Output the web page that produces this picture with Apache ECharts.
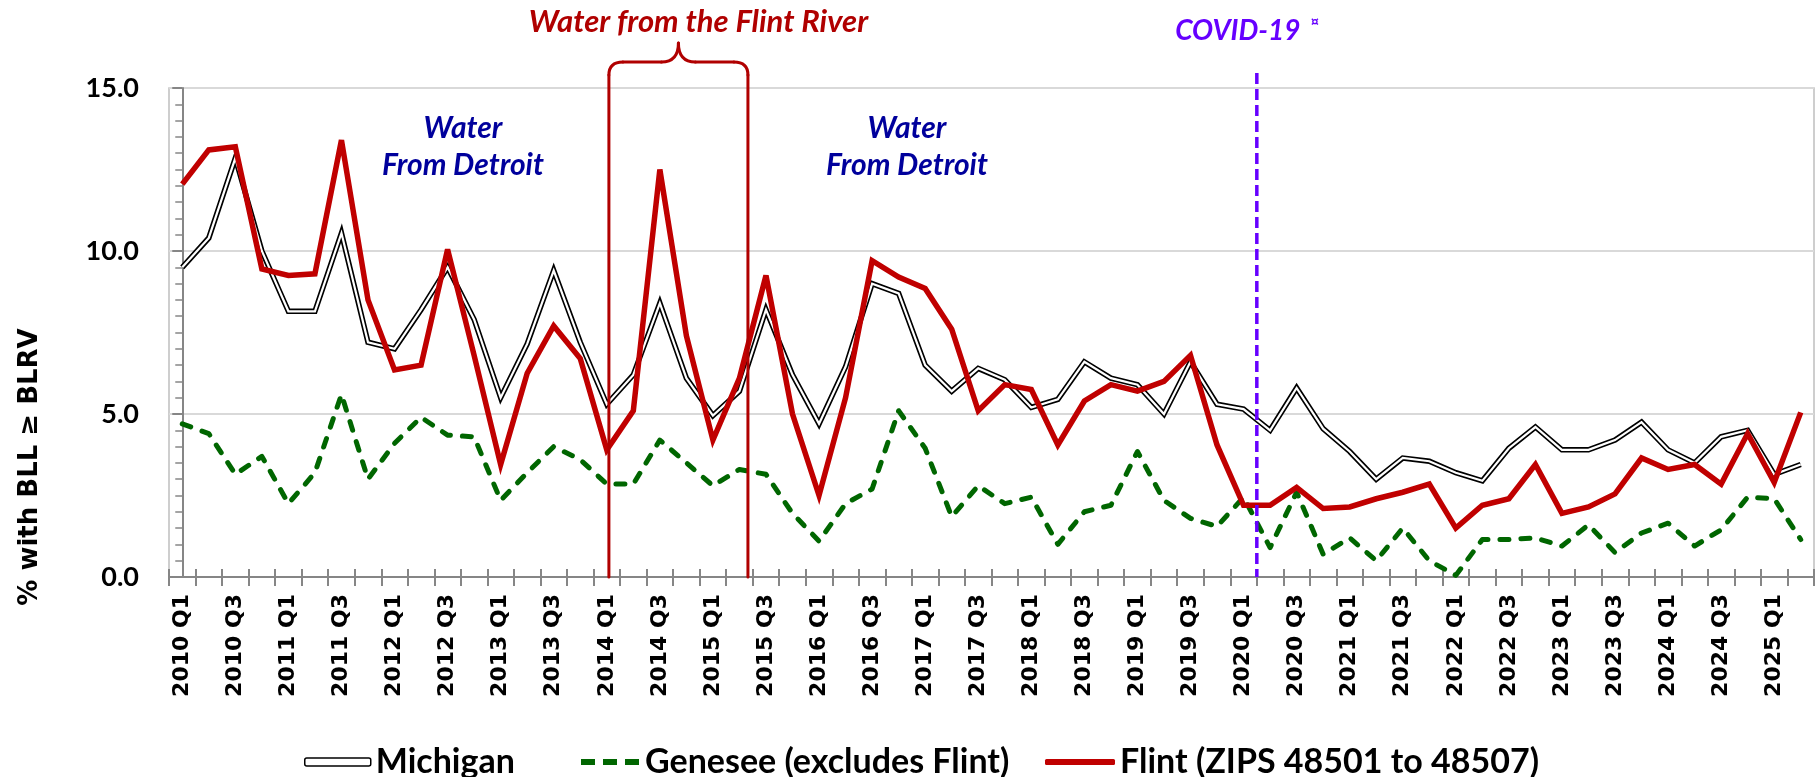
<!DOCTYPE html>
<html><head><meta charset="utf-8">
<script src="https://cdn.jsdelivr.net/npm/echarts@6/dist/echarts.min.js"></script>
<style>html,body{margin:0;padding:0;background:#fff}#c{width:1818px;height:777px}</style>
</head><body><div id="c"></div>
<script>
const quarters = [
 '2010 Q1','2010 Q2','2010 Q3','2010 Q4','2011 Q1','2011 Q2','2011 Q3','2011 Q4',
 '2012 Q1','2012 Q2','2012 Q3','2012 Q4','2013 Q1','2013 Q2','2013 Q3','2013 Q4',
 '2014 Q1','2014 Q2','2014 Q3','2014 Q4','2015 Q1','2015 Q2','2015 Q3','2015 Q4',
 '2016 Q1','2016 Q2','2016 Q3','2016 Q4','2017 Q1','2017 Q2','2017 Q3','2017 Q4',
 '2018 Q1','2018 Q2','2018 Q3','2018 Q4','2019 Q1','2019 Q2','2019 Q3','2019 Q4',
 '2020 Q1','2020 Q2','2020 Q3','2020 Q4','2021 Q1','2021 Q2','2021 Q3','2021 Q4',
 '2022 Q1','2022 Q2','2022 Q3','2022 Q4','2023 Q1','2023 Q2','2023 Q3','2023 Q4',
 '2024 Q1','2024 Q2','2024 Q3','2024 Q4','2025 Q1','2025 Q2'
];
const michigan = [9.5,10.4,12.85,10.0,8.15,8.15,10.55,7.2,7.0,8.2,
 9.5,7.9,5.5,7.15,9.4,7.2,5.3,6.2,8.4,6.1,
 4.95,5.7,8.2,6.2,4.7,6.45,9.0,8.7,6.5,5.7,
 6.4,6.05,5.2,5.45,6.6,6.1,5.9,5.0,6.6,5.3,
 5.15,4.5,5.8,4.55,3.85,3.0,3.65,3.55,3.2,2.95,
 3.95,4.6,3.9,3.9,4.2,4.75,3.9,3.5,4.3,4.5,
 3.15,3.45];
const genesee = [4.7,4.4,3.15,3.7,2.25,3.2,5.6,3.0,4.1,4.9,
 4.35,4.3,2.35,3.2,4.0,3.6,2.85,2.85,4.2,3.5,
 2.8,3.3,3.15,1.95,1.1,2.25,2.7,5.1,3.95,1.85,
 2.8,2.25,2.45,1.0,2.0,2.2,3.85,2.35,1.8,1.55,
 2.45,0.9,2.6,0.7,1.2,0.5,1.5,0.5,0.05,1.15,
 1.15,1.2,0.95,1.6,0.75,1.35,1.65,0.95,1.45,2.45,
 2.4,1.15];
const flint = [12.05,13.1,13.2,9.45,9.25,9.3,13.4,8.5,6.35,6.5,
 10.05,6.8,3.45,6.25,7.7,6.7,3.9,5.1,12.5,7.4,
 4.2,6.1,9.25,5.0,2.5,5.5,9.7,9.2,8.85,7.6,
 5.1,5.9,5.75,4.05,5.4,5.9,5.7,6.0,6.8,4.05,
 2.2,2.2,2.75,2.1,2.15,2.4,2.6,2.85,1.5,2.2,
 2.4,3.45,1.95,2.15,2.55,3.65,3.3,3.45,2.85,4.4,
 2.9,5.05];
const yTicks = [0, 5, 10, 15];
const seriesNames = ['Michigan', 'Genesee (excludes Flint)', 'Flint (ZIPS 48501 to 48507)'];
// annotation positions (in category-index units)
const flintStart = 16.08;
const flintEnd = 21.32;
const covidPos = 40.5;

const chart = echarts.init(document.getElementById('c'));
const axisGray = '#868686';
const green = '#006600', red = '#c00000';
const legendText = {fontFamily:'Lato', fontWeight:'bold', fontSize:34, color:'#000'};
chart.setOption({
  animation:false,
  backgroundColor:'#fff',
  grid:{left:169, right:4, top:88, bottom:200, show:true, borderColor:'#bfbfbf', borderWidth:1.5},
  xAxis:[
    {type:'category', data:quarters, boundaryGap:true, position:'bottom',
     axisLine:{lineStyle:{color:axisGray, width:2}},
     axisTick:{show:true, interval:0, length:9, lineStyle:{color:axisGray, width:2}},
     axisLabel:{interval:1, rotate:90, margin:17, fontFamily:'DejaVu Sans', fontWeight:'bold', fontSize:22, color:'#000'},
     splitLine:{show:false}},
    {type:'value', min:-0.5, max:61.5, interval:1, position:'bottom',
     axisLine:{show:false}, axisLabel:{show:false}, splitLine:{show:false},
     axisTick:{show:true, inside:true, length:8, lineStyle:{color:axisGray, width:2}}}
  ],
  yAxis:{type:'value', min:yTicks[0], max:yTicks[yTicks.length-1], interval:5,
    axisLine:{show:true, lineStyle:{color:axisGray, width:2}},
    axisTick:{show:true, length:10, lineStyle:{color:axisGray, width:2}},
    minorTick:{show:true, splitNumber:10, length:7, lineStyle:{color:axisGray, width:1.5}},
    splitLine:{lineStyle:{color:'#d9d9d9', width:2}},
    axisLabel:{margin:30, formatter:v=>v.toFixed(1), fontFamily:'Lato', fontWeight:'bold', fontSize:27, color:'#000'}},
  legend:[
    {data:[{name:seriesNames[0], icon:'roundRect', itemStyle:{color:'#fff', borderColor:'#000', borderWidth:1.5}}],
     left:299, top:740, itemWidth:66, itemHeight:8, textStyle:legendText, selectedMode:false},
    {data:[{name:seriesNames[1], icon:'path://M0,0h14v6h-14z M22,0h14v6h-14z M44,0h14v6h-14z', itemStyle:{color:green}}],
     left:576, top:740, itemWidth:60, itemHeight:6, textStyle:legendText, selectedMode:false},
    {data:[{name:seriesNames[2], icon:'roundRect', itemStyle:{color:red}}],
     left:1040, top:740, itemWidth:70, itemHeight:6, textStyle:legendText, selectedMode:false}
  ],
  series:[
    {name:seriesNames[0], type:'line', data:michigan, symbol:'none', z:2,
     lineStyle:{color:'#000', width:5.5, join:'miter'}, itemStyle:{color:'#000'}},
    {name:'Michigan inner', type:'line', data:michigan, symbol:'none', z:3, silent:true,
     lineStyle:{color:'#fff', width:2.2, join:'miter'}},
    {name:seriesNames[1], type:'line', data:genesee, symbol:'none', z:4,
     lineStyle:{color:green, width:5, type:[9,12], cap:'round', join:'round'}, itemStyle:{color:green}},
    {name:seriesNames[2], type:'line', data:flint, symbol:'none', z:5,
     lineStyle:{color:red, width:5.5, join:'miter', miterLimit:4}, itemStyle:{color:red}}
  ]
});

const px = v => chart.convertToPixel({xAxisIndex:1}, v);
const py = v => chart.convertToPixel({yAxisIndex:0}, v);
const x0 = px(flintStart), x1 = px(flintEnd), xm = (x0 + x1) / 2;
const yb = py(0), yt = py(15);
const yTop = yt - 13, yH = yt - 26, yCusp = yt - 45;
const braceStyle = {stroke:'#b00000', lineWidth:3, fill:null, lineCap:'round'};
const braceParts = [
  {type:'line', shape:{x1:x0, y1:yb, x2:x0, y2:yTop}},
  {type:'bezierCurve', shape:{x1:x0, y1:yTop, cpx1:x0, cpy1:yH, x2:x0+14, y2:yH}},
  {type:'line', shape:{x1:x0+14, y1:yH, x2:xm-17, y2:yH}},
  {type:'bezierCurve', shape:{x1:xm-17, y1:yH, cpx1:xm, cpy1:yH, x2:xm, y2:yCusp}},
  {type:'bezierCurve', shape:{x1:xm, y1:yCusp, cpx1:xm, cpy1:yH, x2:xm+17, y2:yH}},
  {type:'line', shape:{x1:xm+17, y1:yH, x2:x1-14, y2:yH}},
  {type:'bezierCurve', shape:{x1:x1-14, y1:yH, cpx1:x1, cpy1:yH, x2:x1, y2:yTop}},
  {type:'line', shape:{x1:x1, y1:yTop, x2:x1, y2:yb}}
].map(p => Object.assign(p, {style:braceStyle, z:20}));
const pc = px(covidPos);
const blue = '#00009c';
function txt(x, y, text, color, size, extra) {
  return Object.assign({type:'text', x:x, y:y, z:20, style:{text:text, fill:color,
    fontFamily:'Lato', fontWeight:'bold', fontStyle:'italic', fontSize:size,
    align:'center', verticalAlign:'middle'}}, extra || {});
}
chart.setOption({graphic:braceParts.concat([
  {type:'line', shape:{x1:pc, y1:73, x2:pc, y2:yb}, style:{stroke:'#6600ff', lineWidth:3.5, lineDash:[11,5]}, z:20},
  txt(xm+20, 22, 'Water from the Flint River', '#b00000', 31),
  txt(pc-19, 31, 'COVID-19', '#6600ff', 28),
  txt(pc+58, 22, '¤', '#6600ff', 15),
  txt(463, 128, 'Water', blue, 30),
  txt(463, 165, 'From Detroit', blue, 30),
  txt(907, 128, 'Water', blue, 30),
  txt(907, 165, 'From Detroit', blue, 30),
  {type:'text', x:30, y:467, rotation:Math.PI/2, z:20, style:{text:'% with BLL \u2265 BLRV', fill:'#000',
    fontFamily:'DejaVu Sans', fontWeight:'bold', fontSize:26, align:'center', verticalAlign:'middle'}}
])});
</script>
</body></html>
